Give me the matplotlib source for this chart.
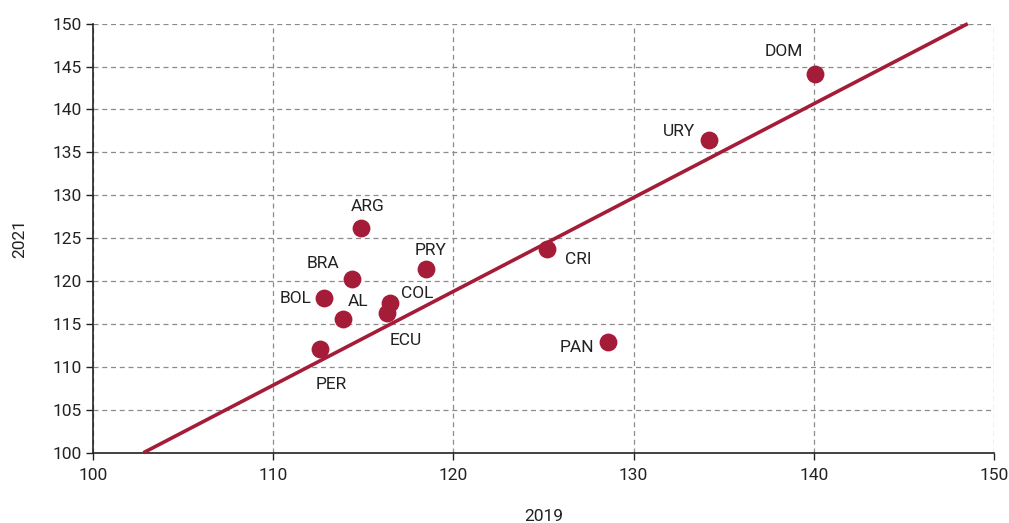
import matplotlib
matplotlib.use("Agg")
import matplotlib.pyplot as plt

plt.rcParams['font.family'] = ['Roboto', 'DejaVu Sans']

# Data
countries = ["DOM", "URY", "ARG", "PRY", "CRI", "BRA", "BOL", "COL", "ECU", "AL", "PER", "PAN"]
x2019 = [140.1, 134.2, 114.9, 118.5, 125.2, 114.4, 112.8, 116.5, 116.3, 113.9, 112.6, 128.6]
y2021 = [144.1, 136.5, 126.2, 121.4, 123.7, 120.2, 118.0, 117.5, 116.3, 115.6, 112.1, 112.9]
trend_x = [102.8, 148.55]
trend_y = [100.0, 150.0]
xticks = [100, 110, 120, 130, 140, 150]
yticks = [100, 105, 110, 115, 120, 125, 130, 135, 140, 145, 150]

# label offsets in pixels (dx, dy)
label_pos = {
    "DOM": (-32, 23),
    "URY": (-30, 8),
    "ARG": (6, 21),
    "PRY": (4, 19),
    "CRI": (31, -10),
    "BRA": (-29, 16),
    "BOL": (-28, 0),
    "COL": (27, 9),
    "ECU": (19, -28),
    "AL": (15, 17),
    "PER": (11, -36),
    "PAN": (-31, -5),
}

red = "#A51C38"
fig = plt.figure(figsize=(10.09, 5.23), dpi=100)
ax = fig.add_axes([0.0922, 0.1344, 0.8928, 0.8203])

ax.set_xlim(100, 150)
ax.set_ylim(100, 150)
ax.set_xticks(xticks)
ax.set_yticks(yticks)
ax.grid(True, linestyle=(0, (4, 3)), color="#8c8c8c", linewidth=0.9)
ax.set_axisbelow(True)

ax.plot(trend_x, trend_y, color=red, linewidth=2.6, solid_capstyle="butt", zorder=3, clip_on=False)
ax.scatter(x2019, y2021, s=165, color=red, zorder=4, linewidths=0)

for c, xv, yv in zip(countries, x2019, y2021):
    dx, dy = label_pos[c]
    ax.annotate(c, (xv, yv), xytext=(dx, dy), textcoords="offset pixels",
                ha="center", va="center", fontsize=12.5, color="#222222")

for s in ["top", "right"]:
    ax.spines[s].set_visible(False)
for s in ["left", "bottom"]:
    ax.spines[s].set_color("#222222")
    ax.spines[s].set_linewidth(1.2)
ax.tick_params(axis="both", direction="out", length=5, width=1.0, color="#222222",
               labelsize=12.5, labelcolor="#222222")
ax.tick_params(axis="x", pad=6)
ax.tick_params(axis="y", pad=3)

ax.set_xlabel("2019", fontsize=12.5, color="#222222", labelpad=19)
ax.set_ylabel("2021", fontsize=12.5, color="#222222", labelpad=18)

fig.savefig("out.png", dpi=100)
